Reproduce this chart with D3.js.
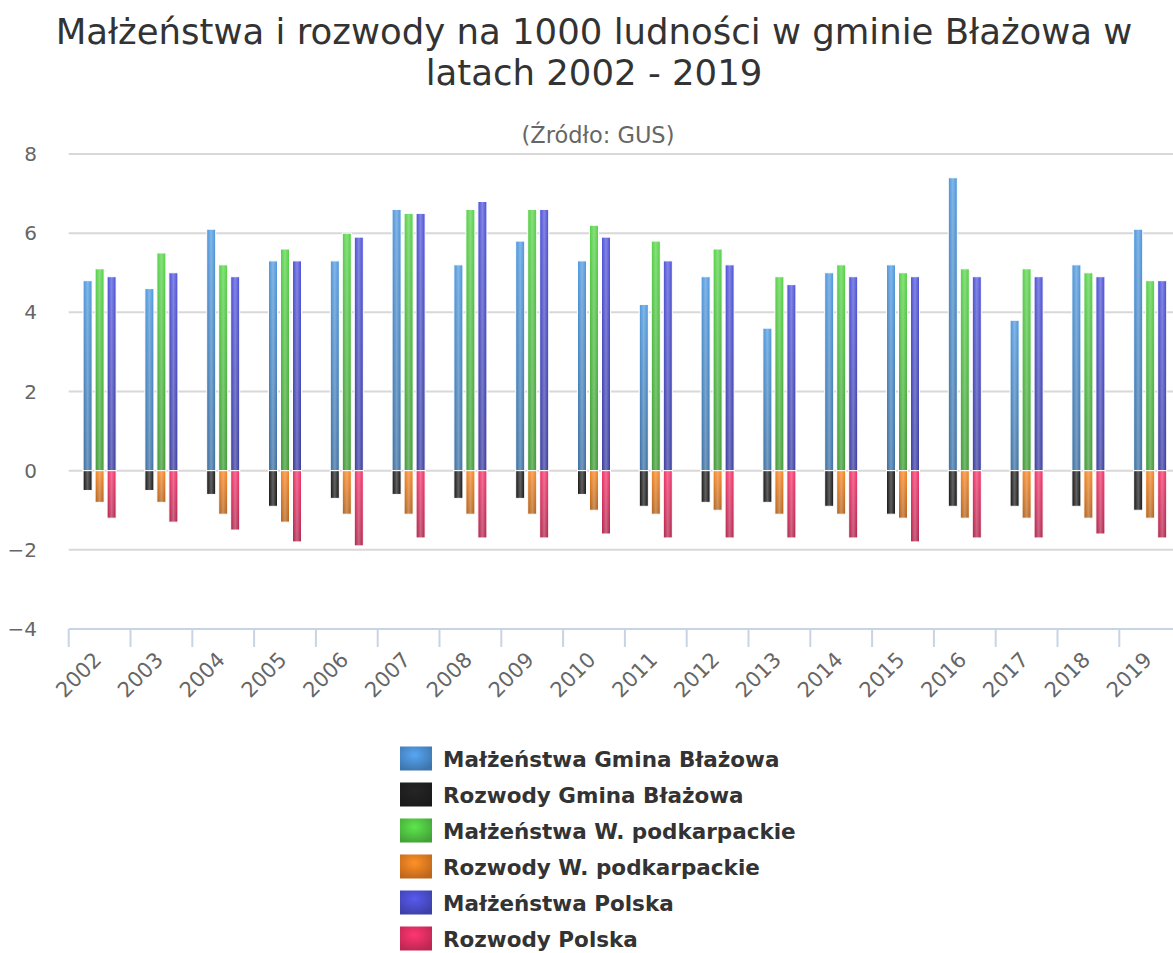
<!DOCTYPE html>
<html><head><meta charset="utf-8">
<script src="https://cdn.jsdelivr.net/npm/d3@7"></script>
<style>
html,body{margin:0;padding:0;background:#fff;}
svg{display:block;}
</style></head>
<body>
<script>
const years = ["2002","2003","2004","2005","2006","2007","2008","2009","2010","2011","2012","2013","2014","2015","2016","2017","2018","2019"];
const seriesNames = ["Małżeństwa Gmina Błażowa","Rozwody Gmina Błażowa","Małżeństwa W. podkarpackie","Rozwody W. podkarpackie","Małżeństwa Polska","Rozwody Polska"];
const stackOf = ["gmina","gmina","woj","woj","pl","pl"];
const stacks = ["gmina","woj","pl"];
const malGmina = [4.8,4.6,6.1,5.3,5.3,6.6,5.2,5.8,5.3,4.2,4.9,3.6,5.0,5.2,7.4,3.8,5.2,6.1];
const rozGmina = [-0.5,-0.5,-0.6,-0.9,-0.7,-0.6,-0.7,-0.7,-0.6,-0.9,-0.8,-0.8,-0.9,-1.1,-0.9,-0.9,-0.9,-1.0];
const malWoj = [5.1,5.5,5.2,5.6,6.0,6.5,6.6,6.6,6.2,5.8,5.6,4.9,5.2,5.0,5.1,5.1,5.0,4.8];
const rozWoj = [-0.8,-0.8,-1.1,-1.3,-1.1,-1.1,-1.1,-1.1,-1.0,-1.1,-1.0,-1.1,-1.1,-1.2,-1.2,-1.2,-1.2,-1.2];
const malPl = [4.9,5.0,4.9,5.3,5.9,6.5,6.8,6.6,5.9,5.3,5.2,4.7,4.9,4.9,4.9,4.9,4.9,4.8];
const rozPl = [-1.2,-1.3,-1.5,-1.8,-1.9,-1.7,-1.7,-1.7,-1.6,-1.7,-1.7,-1.7,-1.7,-1.8,-1.7,-1.7,-1.6,-1.7];
const yTicks = [-4,-2,0,2,4,6,8];
const seriesValues = [malGmina,rozGmina,malWoj,rozWoj,malPl,rozPl];
const colors = ["#4686c4","#1e1e1e","#4cba3f","#d9751f","#4649c0","#d62c5c"];

const W = 1173, H = 953;
const svg = d3.select("body").append("svg").attr("width",W).attr("height",H);
const defs = svg.append("defs");

colors.forEach((c,i)=>{
  const g = defs.append("linearGradient").attr("id","gv"+i).attr("x1",0).attr("y1",0).attr("x2",0).attr("y2",1);
  g.append("stop").attr("offset","0%").attr("stop-color",d3.color(c).brighter(0.35));
  g.append("stop").attr("offset","100%").attr("stop-color",d3.color(c).darker(0.55));
  const r = defs.append("radialGradient").attr("id","gr"+i).attr("cx","45%").attr("cy","35%").attr("r","70%");
  r.append("stop").attr("offset","0%").attr("stop-color",d3.color(c).brighter(0.6));
  r.append("stop").attr("offset","100%").attr("stop-color",d3.color(c).darker(0.4));
});
const hl = defs.append("linearGradient").attr("id","hl").attr("x1",0).attr("y1",0).attr("x2",1).attr("y2",0);
hl.append("stop").attr("offset","0%").attr("stop-color","#fff").attr("stop-opacity",0);
hl.append("stop").attr("offset","50%").attr("stop-color","#fff").attr("stop-opacity",0.3);
hl.append("stop").attr("offset","100%").attr("stop-color","#fff").attr("stop-opacity",0);

const font = "'DejaVu Sans', Verdana, sans-serif";

// Title
const title = svg.append("text").attr("text-anchor","middle").attr("fill","#333")
  .style("font-family",font).style("font-size","35.5px");
title.append("tspan").attr("x",594).attr("y",44).text("Małżeństwa i rozwody na 1000 ludności w gminie Błażowa w");
title.append("tspan").attr("x",594).attr("y",85).text("latach 2002 - 2019");
svg.append("text").attr("x",598).attr("y",143).attr("text-anchor","middle").attr("fill","#666")
  .style("font-family",font).style("font-size","22.5px").text("(Źródło: GUS)");

const x0 = 68.7, step = 61.8;
const x = d3.scaleBand().domain(years).range([x0, x0 + step*years.length]).padding(0);
const y = d3.scaleLinear().domain([-4,8]).range([629,154]);
const xs = d3.scaleBand().domain(stacks).range([x.bandwidth()/2-18, x.bandwidth()/2+18]).paddingInner(0.25).paddingOuter(0.125);

// grid
svg.append("g").selectAll("line").data(yTicks.filter(t=>t>-4)).join("line")
  .attr("x1",x0).attr("x2",W).attr("y1",d=>y(d)).attr("y2",d=>y(d))
  .attr("stroke","#d8d8d8").attr("stroke-width",2);

// y labels
svg.append("g").selectAll("text").data(yTicks).join("text")
  .attr("x",37).attr("y",d=>y(d)).attr("dy","0.35em").attr("text-anchor","end")
  .attr("fill","#666").style("font-family",font).style("font-size","20px")
  .text(d=>d<0?"−"+Math.abs(d):d);

// x axis
const xAxis = d3.axisBottom(x).tickSize(18).tickSizeOuter(0).tickFormat("");
const gx = svg.append("g").attr("transform",`translate(0,${y(-4)})`).call(xAxis);
gx.select(".domain").remove();
gx.selectAll(".tick line").remove();
gx.append("line").attr("x1",x0).attr("x2",W).attr("y1",0).attr("y2",0).attr("stroke","#c8d4e4").attr("stroke-width",2);
gx.selectAll(".bnd").data(years).join("line").attr("class","bnd")
  .attr("x1",d=>x(d)).attr("x2",d=>x(d)).attr("y1",0).attr("y2",18)
  .attr("stroke","#c8d4e4").attr("stroke-width",2);
gx.selectAll(".lbl").data(years).join("text").attr("class","lbl")
  .attr("transform",d=>`translate(${x(d)+x.bandwidth()/2+3},${32}) rotate(-45)`)
  .attr("text-anchor","end").attr("fill","#666").style("font-family",font).style("font-size","21px")
  .text(d=>d);

// bars
const bars = svg.append("g");
seriesValues.forEach((vals,si)=>{
  const g = bars.append("g");
  const data = vals.map((v,i)=>({year:years[i],v}));
  const bx = d=>x(d.year)+xs(stackOf[si]);
  const by = d=>d.v>=0?y(d.v):y(0);
  const bh = d=>Math.abs(y(d.v)-y(0));
  g.selectAll("rect.b").data(data).join("rect").attr("class","b")
    .attr("x",bx).attr("y",by).attr("width",xs.bandwidth()).attr("height",bh)
    .attr("fill",`url(#gv${si})`).attr("stroke","#fff").attr("stroke-width",1);
  g.selectAll("rect.h").data(data).join("rect").attr("class","h")
    .attr("x",d=>bx(d)+0.5).attr("y",by).attr("width",xs.bandwidth()-1).attr("height",bh)
    .attr("fill","url(#hl)");
});

// legend
const lg = svg.append("g");
seriesNames.forEach((n,i)=>{
  const top = 746.5 + i*36;
  lg.append("rect").attr("x",400).attr("y",top).attr("width",32).attr("height",24).attr("fill",`url(#gr${i})`);
  lg.append("text").attr("x",443).attr("y",top+20).attr("fill","#333").style("font-family",font)
    .style("font-size","21.5px").style("font-weight","bold").text(n);
});
</script>
</body></html>
